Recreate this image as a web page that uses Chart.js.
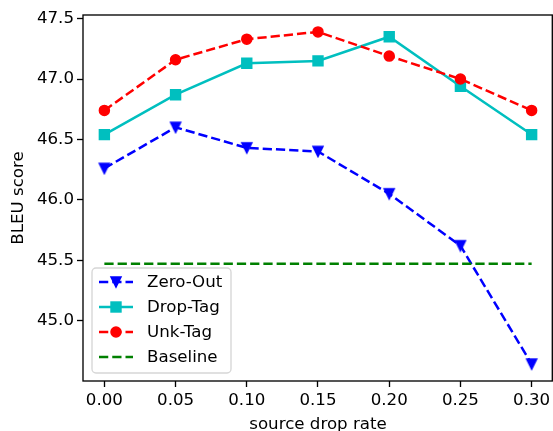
<!DOCTYPE html>
<html>
<head>
<meta charset="utf-8">
<script src="https://cdn.jsdelivr.net/npm/chart.js@4.4.1/dist/chart.umd.min.js"></script>
<style>
  html, body { margin: 0; padding: 0; background: #fff; }
  #wrap { width: 553px; height: 431px; }
</style>
</head>
<body>
<div id="wrap"><canvas id="chart" width="553" height="431"></canvas></div>
<script>
// values
const dropRates = [0.00, 0.05, 0.10, 0.15, 0.20, 0.25, 0.30];
const zeroOut = [46.26, 46.60, 46.43, 46.40, 46.05, 45.62, 44.64];
const dropTag = [46.54, 46.87, 47.13, 47.15, 47.35, 46.94, 46.54];
const unkTag = [46.74, 47.16, 47.33, 47.39, 47.19, 47.00, 46.74];
const baselineRates = [0.00, 0.30];
const baseline = [45.47, 45.47];

const xTicks = [0.00, 0.05, 0.10, 0.15, 0.20, 0.25, 0.30];
const yTicks = [45.0, 45.5, 46.0, 46.5, 47.0, 47.5];

const FONT = { family: 'DejaVu Sans', size: 16.67 };
const LW = 2.5;
const DASH = [9.25, 4];

const toPoints = (xs, ys) => xs.map((x, i) => ({ x, y: ys[i] }));

// matplotlib-like 'v' marker as a small canvas
function triangleDown(color) {
  const c = document.createElement('canvas');
  c.width = 14;
  c.height = 14;
  const g = c.getContext('2d');
  g.beginPath();
  g.moveTo(2, 2);
  g.lineTo(12, 2);
  g.lineTo(7, 12);
  g.closePath();
  g.fillStyle = color;
  g.fill();
  g.lineWidth = 1.5;
  g.strokeStyle = color;
  g.stroke();
  return c;
}

const datasets = [
  {
    label: 'Zero-Out',
    data: toPoints(dropRates, zeroOut),
    borderColor: '#0000ff',
    backgroundColor: '#0000ff',
    borderDash: DASH,
    pointStyle: triangleDown('#0000ff'),
    pointRadius: 6,
    order: 4,
  },
  {
    label: 'Drop-Tag',
    data: toPoints(dropRates, dropTag),
    borderColor: '#00bfbf',
    backgroundColor: '#00bfbf',
    pointStyle: 'rect',
    pointRadius: 7,
    pointBorderWidth: 1.5,
    order: 3,
  },
  {
    label: 'Unk-Tag',
    data: toPoints(dropRates, unkTag),
    borderColor: '#ff0000',
    backgroundColor: '#ff0000',
    borderDash: DASH,
    pointStyle: 'circle',
    pointRadius: 5,
    pointBorderWidth: 1.5,
    order: 2,
  },
  {
    label: 'Baseline',
    data: toPoints(baselineRates, baseline),
    borderColor: '#008000',
    backgroundColor: '#008000',
    borderDash: DASH,
    pointRadius: 0,
    order: 1,
  },
];

// top/right/left/bottom spines drawn like matplotlib axes frame
const framePlugin = {
  id: 'frame',
  afterDatasetsDraw(chart) {
    const { ctx, chartArea: a } = chart;
    ctx.save();
    ctx.strokeStyle = '#000';
    ctx.lineWidth = 1.33;
    ctx.strokeRect(a.left, a.top, a.right - a.left - 0.7, a.bottom - a.top);
    ctx.restore();
  },
};

// legend box in the lower left, matplotlib style
const legendPlugin = {
  id: 'mplLegend',
  afterDraw(chart) {
    const { ctx } = chart;
    const box = { x: 92, y: 268, w: 139, h: 105, r: 4 };
    ctx.save();
    ctx.beginPath();
    ctx.roundRect(box.x, box.y, box.w, box.h, box.r);
    ctx.fillStyle = 'rgba(255,255,255,0.8)';
    ctx.fill();
    ctx.strokeStyle = 'rgba(204,204,204,0.8)';
    ctx.lineWidth = 1.33;
    ctx.stroke();

    chart.data.datasets.forEach((ds, i) => {
      const y = 282 + i * 25;
      ctx.beginPath();
      ctx.setLineDash(ds.borderDash || []);
      ctx.strokeStyle = ds.borderColor;
      ctx.lineWidth = LW;
      ctx.moveTo(99, y);
      ctx.lineTo(133, y);
      ctx.stroke();
      ctx.setLineDash([]);
      if (ds.pointRadius) {
        const style = ds.pointStyle;
        ctx.fillStyle = ds.backgroundColor;
        if (style instanceof HTMLCanvasElement) {
          ctx.drawImage(style, 116 - style.width / 2, y - style.height / 2);
        } else if (style === 'rect') {
          const s = ds.pointRadius * Math.SQRT1_2;
          ctx.fillRect(116 - s, y - s, 2 * s, 2 * s);
          ctx.lineWidth = ds.pointBorderWidth;
          ctx.strokeRect(116 - s, y - s, 2 * s, 2 * s);
        } else {
          ctx.beginPath();
          ctx.arc(116, y, ds.pointRadius, 0, Math.PI * 2);
          ctx.fill();
          ctx.lineWidth = ds.pointBorderWidth;
          ctx.stroke();
        }
      }
      ctx.fillStyle = '#000';
      ctx.font = `${FONT.size}px "${FONT.family}"`;
      ctx.textBaseline = 'middle';
      ctx.textAlign = 'left';
      ctx.fillText(ds.label, 147, y + 1);
    });
    ctx.restore();
  },
};

const axisCommon = {
  type: 'linear',
  border: { display: false },
  grid: {
    display: true,
    drawOnChartArea: false,
    drawTicks: true,
    tickLength: 6,
    tickColor: '#000',
    tickWidth: 1.33,
  },
};

new Chart(document.getElementById('chart'), {
  type: 'line',
  data: { datasets },
  plugins: [framePlugin, legendPlugin],
  options: {
    responsive: false,
    animation: false,
    events: [],
    layout: { autoPadding: false, padding: { top: 15, right: 0, left: 0, bottom: 0 } },
    elements: {
      line: { borderWidth: LW, tension: 0, fill: false },
      point: { borderWidth: 1.5 },
    },
    plugins: {
      legend: { display: false },
      tooltip: { enabled: false },
    },
    scales: {
      x: {
        ...axisCommon,
        min: -0.015,
        max: 0.315,
        afterBuildTicks: s => { s.ticks = xTicks.map(v => ({ value: v })); },
        afterFit: s => {
          s.height = 50;
          s.paddingLeft = 0;
          s.paddingRight = 0;
        },
        ticks: {
          color: '#000',
          font: FONT,
          padding: 4,
          maxRotation: 0,
          autoSkip: false,
          callback: v => v.toFixed(2),
        },
        title: {
          display: true,
          text: 'source drop rate',
          color: '#000',
          font: FONT,
          padding: { top: 0, bottom: -3.5 },
        },
      },
      y: {
        ...axisCommon,
        min: 44.5,
        max: 47.53,
        afterBuildTicks: s => { s.ticks = yTicks.map(v => ({ value: v })); },
        afterFit: s => {
          s.width = 83;
          s.paddingTop = 0;
          s.paddingBottom = 0;
        },
        ticks: {
          color: '#000',
          font: FONT,
          padding: 3,
          autoSkip: false,
          callback: v => v.toFixed(1),
        },
        title: {
          display: true,
          text: 'BLEU score',
          color: '#000',
          font: FONT,
          padding: { top: 9, bottom: 0 },
        },
      },
    },
  },
});
</script>
</body>
</html>
